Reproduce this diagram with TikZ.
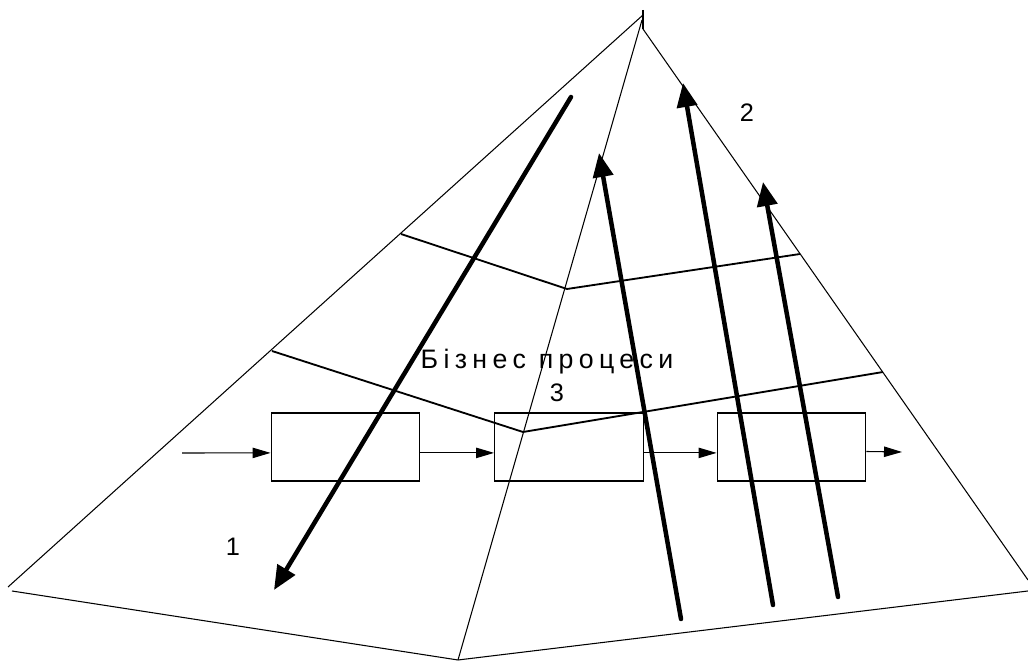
\documentclass[tikz,border=0pt]{standalone}
\usepackage{fontspec}
\setmainfont{Liberation Sans}
\usetikzlibrary{arrows.meta, positioning}
\tikzset{
  every picture/.style={line width=0.75pt},
  face/.style={line width=0.75pt},
  level/.style={line width=1.3pt, line join=miter},
  stage/.style={draw, line width=0.75pt, minimum width=3.72cm, minimum height=1.7cm, inner sep=0pt},
  flow/.style={-{Triangle[length=4.5mm, width=2.6mm]}, line width=0.75pt},
  bold/.style={-{Triangle[length=6mm, width=5mm]}, line width=3.2pt, line cap=round},
  title/.style={font=\fontsize{19}{22}\selectfont\addfontfeature{LetterSpace=20}},
  num/.style={font=\fontsize{18}{20}\selectfont},
}

\begin{document}
\begin{tikzpicture}[x=0.025cm, y=-0.025cm]
  \useasboundingbox (0,0) rectangle (1028,661);
  % pyramid corners
  \coordinate (top) at (643,15);
  \coordinate (left) at (8,587);
  \coordinate (front) at (458,660);
  \coordinate (right) at (1028,580);
  \draw[face] (643,10) -- (643,29);
  \draw[face] (top) -- (left);
  \draw[face] (642,20) -- (front);
  \draw[face] (643,29) -- (right);
  \draw[face] (12,591) -- (front) -- (1028,591);
  % levels
  \draw[level] (401,234) -- (567,289) -- (800,254);
  \draw[level] (272,351) -- (523,432) -- (883,372);
  % process chain
  \node[stage] (boxA) at (345.5,447) {};
  \node[stage] (boxB) at (569,447) {};
  \node[stage] (boxC) at (791.5,447) {};
  \coordinate (in) at (182,453);
  \coordinate (out) at (902,452);
  \draw[flow] (in) -- ([yshift=-4.2pt]boxA.west);
  \draw[flow] ([yshift=-4.2pt]boxA.east) -- ([yshift=-4.2pt]boxB.west);
  \draw[flow] ([yshift=-4.2pt]boxB.east) -- ([yshift=-4.2pt]boxC.west);
  \draw[flow] ([yshift=-3.2pt]boxC.east) -- (out);
  % thick arrows
  \draw[bold] (571,97) -- (274,590);
  \foreach \xa/\ya/\xb/\yb in {681/619/599/153, 773/605/683/83, 838/597/763/182}
    \draw[bold] (\xa,\ya) -- (\xb,\yb);
  % labels
  \node[title] (bp) at (547,362) {Бізнес процеси};
  \node[num] (n1) at (233,547) {1};
  \node[num] (n2) at (747,113) {2};
  \node[num] (n3) at (557,393) {3};
\end{tikzpicture}
\end{document}
